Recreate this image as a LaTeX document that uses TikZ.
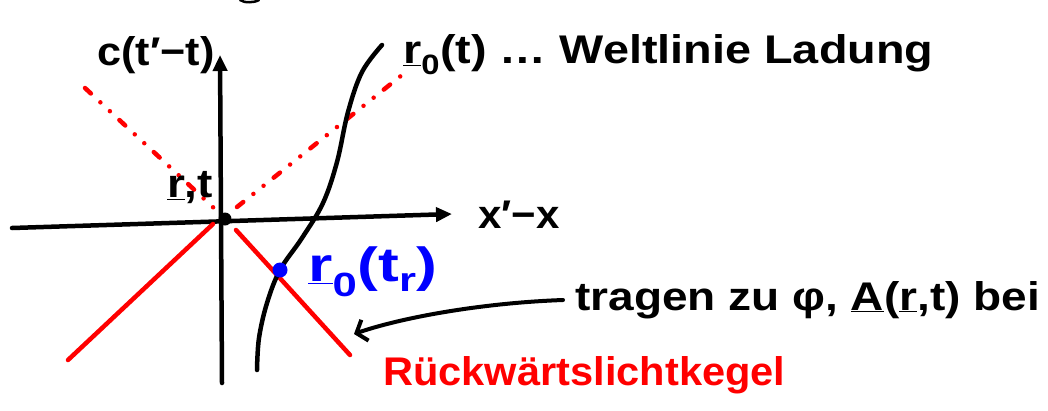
\documentclass[tikz,border=0pt]{standalone}
\usepackage{fontspec}
\setmainfont{Liberation Sans}
\usetikzlibrary{arrows.meta}
\definecolor{penred}{RGB}{255,0,0}
\definecolor{penblue}{RGB}{0,0,255}
\begin{document}
\begin{tikzpicture}[x=1pt,y=-1pt, line cap=round, line join=round,
  pen/.style={line width=4.5pt, black},
  axis/.style={pen, -{Triangle[length=16pt,width=14pt]}},
  cone/.style={pen, penred},
  past/.style={pen, penred, dash pattern=on 8pt off 13pt on 0pt off 13pt on 0pt off 13pt},
  lbl/.style={font=\fontsize{40}{46}\selectfont\bfseries, inner sep=0pt}]
\useasboundingbox (0,0) rectangle (1048,410);
% named points
\coordinate (xs) at (12,228);
\coordinate (xe) at (452,214);
\coordinate (ys) at (222,383);
\coordinate (ye) at (220,55);
\coordinate (O) at (225,219);
\coordinate (ll) at (68,360);
\coordinate (lle) at (213,224);
\coordinate (lr) at (236,230);
\coordinate (lre) at (350,355);
\coordinate (ul) at (85,88);
\coordinate (ule) at (216,210);
\coordinate (ur) at (237,207);
\coordinate (ure) at (402,75);
\coordinate (P) at (280,270);
\coordinate (a2) at (354,334);
% top fragment
\draw[pen, line width=2.5pt] (240,0) .. controls (244,3) and (254,3) .. (259,0);
% axes
\draw[axis] (xs) -- (xe);
\draw[axis] (ys) -- (ye);
% light cone
\draw[past] (ul) -- (ule);
\draw[past] (ur) -- (ure);
\draw[cone] (ll) -- (lle);
\draw[cone] (lr) -- (lre);
% world line
\draw[pen] plot[smooth, tension=0.6] coordinates {(382,45) (362,72) (348,112) (337,162) (323,203) (302,238) (280,270) (267,303) (259,338) (257,370)};
% dots
\fill (O) circle (6.5pt);
\fill[penblue] (P) circle (7.5pt);
% labels
\node[lbl, xscale=1.08] (ct) at (156,55) {c(t′−t)};
\node[lbl, xscale=1.17, anchor=west] (wl) at (403,55) {\underline{r}\textsubscript{0}(t) … Weltlinie Ladung};
\node[lbl, xscale=1.15] (rt) at (190,188) {\underline{r},t};
\node[lbl, xscale=1.05, anchor=west] (xl) at (478,215) {x′−x};
\node[lbl, font=\fontsize{48}{54}\selectfont\bfseries, xscale=1.3, text=penblue, anchor=west] (rr) at (308,272) {\underline{r}\textsubscript{0}(t\textsubscript{r})};
\node[lbl, xscale=1.15, anchor=west] (tr) at (575,300) {tragen zu φ, \underline{A}(\underline{r},t) bei};
\node[lbl, xscale=1.04, text=penred, anchor=west] (rk) at (383,375) {Rückwärtslichtkegel};
% annotation arrow
\draw[pen, line width=4pt, -{Straight Barb[length=9pt,width=22pt]}] ([xshift=-12pt]tr.west) .. controls (480,303) and (400,318) .. (a2);
\end{tikzpicture}
\end{document}
